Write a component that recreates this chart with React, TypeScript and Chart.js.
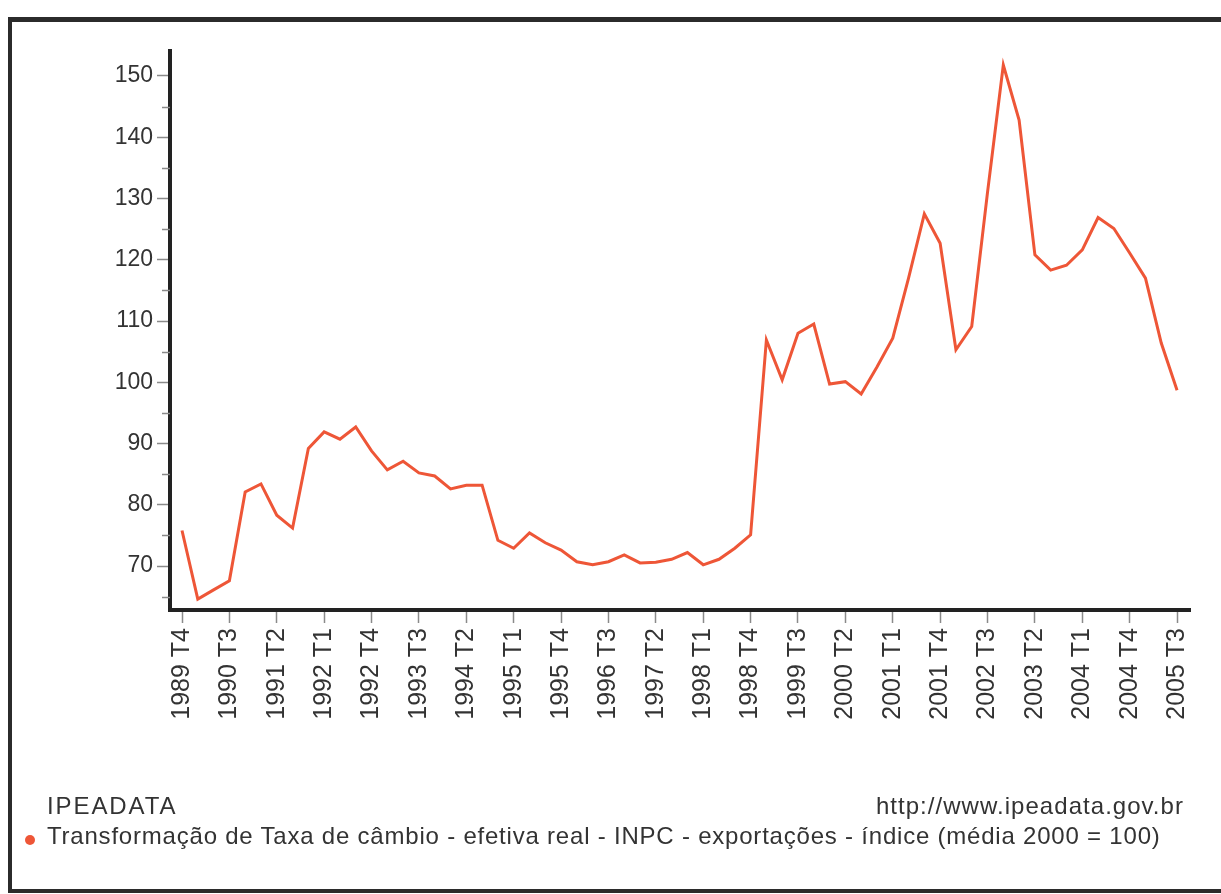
import React, { useEffect, useRef } from 'react';
import { Chart, registerables } from 'chart.js';

Chart.register(...registerables);

const FONT = "'Liberation Sans', Arial, sans-serif";

const QUARTERS = [
  '1989 T4',
  '1990 T1', '1990 T2', '1990 T3', '1990 T4',
  '1991 T1', '1991 T2', '1991 T3', '1991 T4',
  '1992 T1', '1992 T2', '1992 T3', '1992 T4',
  '1993 T1', '1993 T2', '1993 T3', '1993 T4',
  '1994 T1', '1994 T2', '1994 T3', '1994 T4',
  '1995 T1', '1995 T2', '1995 T3', '1995 T4',
  '1996 T1', '1996 T2', '1996 T3', '1996 T4',
  '1997 T1', '1997 T2', '1997 T3', '1997 T4',
  '1998 T1', '1998 T2', '1998 T3', '1998 T4',
  '1999 T1', '1999 T2', '1999 T3', '1999 T4',
  '2000 T1', '2000 T2', '2000 T3', '2000 T4',
  '2001 T1', '2001 T2', '2001 T3', '2001 T4',
  '2002 T1', '2002 T2', '2002 T3', '2002 T4',
  '2003 T1', '2003 T2', '2003 T3', '2003 T4',
  '2004 T1', '2004 T2', '2004 T3', '2004 T4',
  '2005 T1', '2005 T2', '2005 T3',
];

const VALUES = [
  75.8,
  64.6, 66.1, 67.6, 82.1,
  83.4, 78.3, 76.2, 89.2,
  91.9, 90.7, 92.7, 88.8,
  85.7, 87.1, 85.2, 84.7,
  82.6, 83.2, 83.2, 74.2,
  72.9, 75.4, 73.8, 72.6,
  70.7, 70.2, 70.7, 71.8,
  70.5, 70.6, 71.1, 72.2,
  70.2, 71.1, 72.9, 75.1,
  106.9, 100.4, 108.0, 109.5,
  99.7, 100.1, 98.1, 102.5,
  107.2, 117.0, 127.5, 122.7,
  105.3, 109.1, 131.0, 151.8,
  142.8, 120.8, 118.3, 119.1,
  121.6, 126.9, 125.1, 121.1,
  117.0, 106.4, 98.7,
];

const X_TICK_LABELS = [
  '1989 T4', '1990 T3', '1991 T2', '1992 T1', '1992 T4', '1993 T3',
  '1994 T2', '1995 T1', '1995 T4', '1996 T3', '1997 T2', '1998 T1',
  '1998 T4', '1999 T3', '2000 T2', '2001 T1', '2001 T4', '2002 T3',
  '2003 T2', '2004 T1', '2004 T4', '2005 T3',
];

const Y_TICKS = [70, 80, 90, 100, 110, 120, 130, 140, 150];
const Y_MINOR_TICKS = [65, 75, 85, 95, 105, 115, 125, 135, 145];

const SOURCE_LABEL = 'IPEADATA';
const SOURCE_URL = 'http://www.ipeadata.gov.br';
const SERIES_NAME =
  'Transformação de Taxa de câmbio - efetiva real - INPC - exportações - índice (média 2000 = 100)';

const LINE_COLOR = '#ee5637';

const minorTicksPlugin = {
  id: 'minorTicks',
  afterDraw(chart: any) {
    const y = chart.scales.y;
    const ctx = chart.ctx;
    const left = chart.chartArea.left;
    ctx.save();
    ctx.strokeStyle = '#8a8a8a';
    ctx.lineWidth = 1.5;
    Y_MINOR_TICKS.forEach((v) => {
      const py = Math.round(y.getPixelForValue(v)) + 0.5;
      ctx.beginPath();
      ctx.moveTo(left - 8, py);
      ctx.lineTo(left, py);
      ctx.stroke();
    });
    ctx.restore();
  },
};

export default function App() {
  const canvasRef = useRef<HTMLCanvasElement | null>(null);

  useEffect(() => {
    if (!canvasRef.current) return;
    const chart = new Chart(canvasRef.current, {
      type: 'line',
      data: {
        datasets: [
          {
            label: SERIES_NAME,
            data: VALUES.map((v, i) => ({ x: i, y: v })),
            borderColor: LINE_COLOR,
            borderWidth: 3,
            pointRadius: 0,
            fill: false,
            tension: 0,
          },
        ],
      },
      options: {
        animation: false,
        responsive: false,
        devicePixelRatio: 1,
        layout: { padding: { left: 0, top: 51, right: 31, bottom: 0 } },
        plugins: { legend: { display: false }, tooltip: { enabled: false } },
        scales: {
          x: {
            type: 'linear',
            min: -0.76,
            max: 63.82,
            afterBuildTicks: (s: any) => {
              s.ticks = X_TICK_LABELS.map((l) => ({ value: QUARTERS.indexOf(l) }));
            },
            afterFit: (s: any) => {
              s.height = 284;
            },
            grid: {
              display: true,
              drawOnChartArea: false,
              drawTicks: true,
              tickLength: 13,
              tickColor: '#8a8a8a',
              tickWidth: 1.5,
            },
            border: { display: true, color: '#222', width: 4 },
            ticks: {
              autoSkip: false,
              minRotation: 90,
              maxRotation: 90,
              padding: 5,
              color: '#333',
              font: { family: FONT, size: 25 },
              callback: (v: any) => QUARTERS[v] ?? '',
            },
          },
          y: {
            type: 'linear',
            min: 62.82,
            max: 154.08,
            afterBuildTicks: (s: any) => {
              s.ticks = Y_TICKS.map((v) => ({ value: v }));
            },
            afterFit: (s: any) => {
              s.width = 170;
            },
            grid: {
              display: true,
              drawOnChartArea: false,
              drawTicks: true,
              tickLength: 13,
              tickColor: '#8a8a8a',
              tickWidth: 1.5,
            },
            border: { display: true, color: '#222', width: 4 },
            ticks: {
              padding: 4,
              color: '#333',
              font: { family: FONT, size: 23 },
              callback: (v: any) => String(v),
            },
          },
        },
      },
      plugins: [minorTicksPlugin],
    } as any);
    return () => chart.destroy();
  }, []);

  const textStyle: React.CSSProperties = {
    position: 'absolute',
    fontFamily: FONT,
    fontSize: 24,
    lineHeight: '24px',
    color: '#333',
    whiteSpace: 'nowrap',
  };

  return (
    <div
      style={{
        position: 'fixed',
        left: 0,
        top: 0,
        width: 1221,
        height: 894,
        overflow: 'hidden',
        background: '#fff',
      }}
    >
      <div
        style={{
          position: 'absolute',
          left: 8,
          top: 17,
          width: 1300,
          height: 876,
          boxSizing: 'border-box',
          borderTop: '5px solid #2b2b2b',
          borderLeft: '4px solid #2b2b2b',
          borderBottom: '4px solid #2b2b2b',
        }}
      />
      <canvas
        ref={canvasRef}
        width={1221}
        height={894}
        style={{ position: 'absolute', left: 0, top: 0, width: 1221, height: 894 }}
      />
      <div style={{ ...textStyle, left: 47, top: 794, letterSpacing: '1.9px' }}>{SOURCE_LABEL}</div>
      <div style={{ ...textStyle, right: 1221 - 1184, top: 794, letterSpacing: '1.04px' }}>{SOURCE_URL}</div>
      <div
        style={{
          position: 'absolute',
          left: 25,
          top: 835,
          width: 10,
          height: 10,
          borderRadius: '50%',
          background: LINE_COLOR,
        }}
      />
      <div style={{ ...textStyle, left: 47, top: 824, letterSpacing: '0.79px' }}>{SERIES_NAME}</div>
    </div>
  );
}
